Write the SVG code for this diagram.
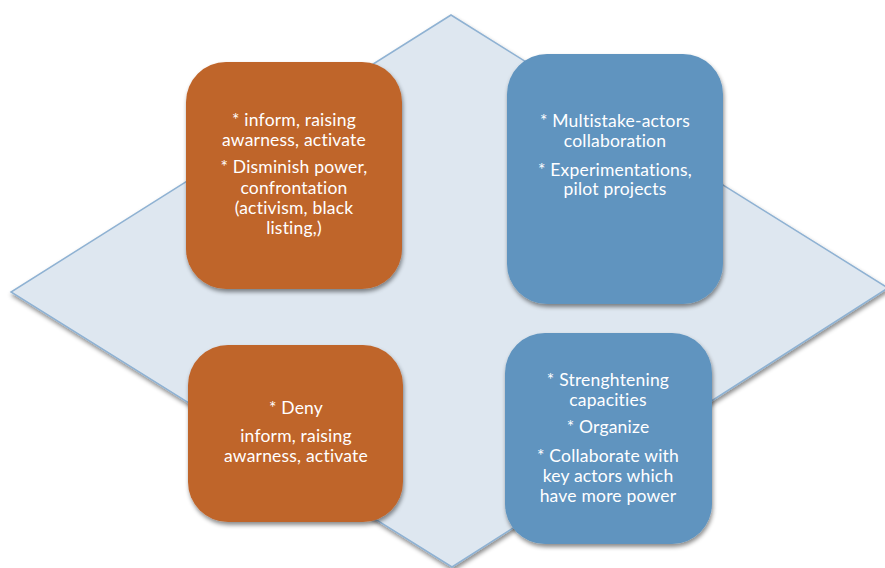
<svg xmlns="http://www.w3.org/2000/svg" width="885" height="568" viewBox="0 0 885 568">
<defs>
<filter id="sh" x="-10%" y="-10%" width="125%" height="125%">
<feDropShadow dx="1" dy="3" stdDeviation="2" flood-color="#000" flood-opacity="0.45"/>
</filter>
<style>
.bg{fill:#fff}
.dia{fill:#DEE7F0;stroke:#8FB2D3;stroke-width:1.5}
.or{fill:#BF652B}
.bl{fill:#6094BF}
.t{font-family:"Lato","Noto Sans",sans-serif;font-size:17.5px;letter-spacing:0.2px;fill:#fff;text-anchor:middle}
</style>
</defs>
<rect class="bg" width="885" height="568"/>
<g id="background-diamond">
<polygon class="dia" filter="url(#sh)" points="451,15 888,288 452,567 11,292"/>
</g>
<g id="node-top-left">
<rect class="or" filter="url(#sh)" x="186" y="62" width="216" height="227" rx="40"/>
<text class="t" x="294"><tspan x="294" y="126">* inform, raising</tspan><tspan x="294" y="146">awarness, activate</tspan><tspan x="294" y="173">* Disminish power,</tspan><tspan x="294" y="194">confrontation</tspan><tspan x="294" y="214">(activism, black</tspan><tspan x="294" y="234">listing,)</tspan></text>
</g>
<g id="node-top-right">
<rect class="bl" filter="url(#sh)" x="507" y="54" width="216" height="250" rx="40"/>
<text class="t"><tspan x="615" y="127">* Multistake-actors</tspan><tspan x="615" y="147">collaboration</tspan><tspan x="615" y="176">* Experimentations,</tspan><tspan x="615" y="195">pilot projects</tspan></text>
</g>
<g id="node-bottom-left">
<rect class="or" filter="url(#sh)" x="188" y="345" width="215" height="177" rx="40"/>
<text class="t"><tspan x="296" y="414">* Deny</tspan><tspan x="296" y="442">inform, raising</tspan><tspan x="296" y="462">awarness, activate</tspan></text>
</g>
<g id="node-bottom-right">
<rect class="bl" filter="url(#sh)" x="505" y="333" width="207" height="211" rx="40"/>
<text class="t"><tspan x="608" y="386">* Strenghtening</tspan><tspan x="608" y="406">capacities</tspan><tspan x="608" y="433">* Organize</tspan><tspan x="608" y="462">* Collaborate with</tspan><tspan x="608" y="482">key actors which</tspan><tspan x="608" y="502">have more power</tspan></text>
</g>
<g id="connectors"></g>
</svg>
